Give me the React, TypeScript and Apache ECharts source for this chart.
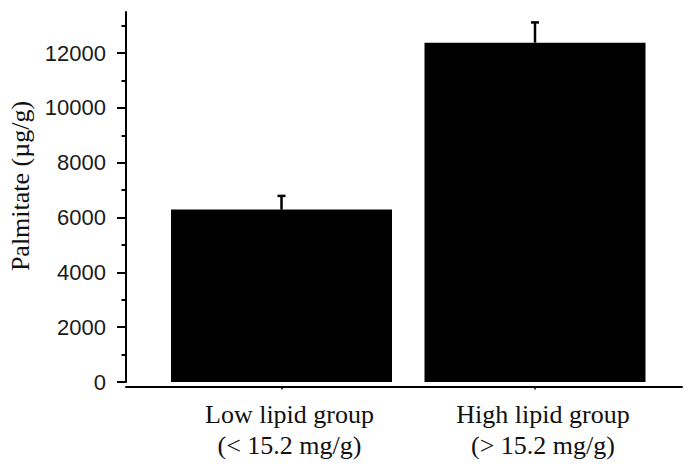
import React, { useEffect, useRef } from "react";
import * as echarts from "echarts";

const categories = ["Low lipid group\n(< 15.2 mg/g)", "High lipid group\n(> 15.2 mg/g)"];
const means = [6290, 12380];
const errorTops = [6790, 13120];
const yTickValues = [0, 2000, 4000, 6000, 8000, 10000, 12000];
const yAxisTitle = "Palmitate (µg/g)";

export default function App() {
  const ref = useRef<HTMLDivElement>(null);
  useEffect(() => {
    if (!ref.current) return;
    const chart = echarts.init(ref.current, null, { renderer: "svg" });
    const xMin = (126 - 281.5) / 253.5;
    const xMax = (682 - 281.5) / 253.5;
    chart.setOption({
      animation: false,
      backgroundColor: "#fff",
      grid: { left: 126, right: 8, top: 12, bottom: 93, containLabel: false },
      xAxis: {
        type: "value",
        min: xMin,
        max: xMax,
        offset: 4.5,
        splitLine: { show: false },
        axisLine: { show: true, onZero: false, lineStyle: { color: "#000", width: 2 } },
        axisTick: {
          show: true,
          customValues: [0, 1],
          length: 3,
          lineStyle: { color: "#000", width: 1.5 },
        },
        axisLabel: {
          show: true,
          customValues: [0, 1],
          formatter: (v: number) => categories[Math.round(v)] ?? "",
          fontFamily: "'Liberation Serif', 'Times New Roman', serif",
          fontSize: 26,
          lineHeight: 31,
          color: "#111",
          margin: 12,
          padding: [0, 0, 0, 16],
        },
      },
      yAxis: {
        type: "value",
        min: 0,
        max: 13500,
        interval: 2000,
        splitLine: { show: false },
        axisLine: { show: true, onZero: false, lineStyle: { color: "#000", width: 2 } },
        axisTick: {
          show: true,
          customValues: yTickValues,
          length: 9,
          lineStyle: { color: "#000", width: 2 },
        },
        minorTick: {
          show: true,
          splitNumber: 2,
          length: 4.5,
          lineStyle: { color: "#000", width: 2 },
        },
        axisLabel: {
          show: true,
          customValues: yTickValues,
          formatter: (v: number) => String(v),
          fontFamily: "'Liberation Sans', Arial, sans-serif",
          fontSize: 22,
          color: "#1a1a1a",
          margin: 20,
        },
      },
      graphic: [
        {
          type: "text",
          x: 20,
          y: 186,
          rotation: Math.PI / 2,
          style: {
            text: yAxisTitle,
            fontFamily: "'Liberation Serif', 'Times New Roman', serif",
            fontSize: 26,
            fill: "#111",
            align: "center",
            verticalAlign: "middle",
          },
        },
      ],
      series: [
        {
          type: "bar",
          data: means.map((v, i) => [i, v]),
          barWidth: 221,
          itemStyle: { color: "#000" },
          z: 2,
        },
        {
          type: "custom",
          data: means.map((v, i) => [i, v, errorTops[i]]),
          encode: { x: 0, y: [1, 2] },
          z: 3,
          renderItem: (_params: any, api: any) => {
            const x = api.value(0);
            const m = api.value(1);
            const u = api.value(2);
            const p0 = api.coord([x, m]);
            const p1 = api.coord([x, u]);
            return {
              type: "group",
              children: [
                {
                  type: "line",
                  shape: { x1: p0[0], y1: p0[1], x2: p1[0], y2: p1[1] },
                  style: { stroke: "#000", lineWidth: 2.5 },
                },
                {
                  type: "line",
                  shape: { x1: p1[0] - 4, y1: p1[1], x2: p1[0] + 4, y2: p1[1] },
                  style: { stroke: "#000", lineWidth: 2.5 },
                },
              ],
            };
          },
        },
      ],
    });
    return () => chart.dispose();
  }, []);
  return (
    <div
      ref={ref}
      style={{ position: "fixed", left: 0, top: 0, width: 690, height: 475, background: "#fff" }}
    />
  );
}
